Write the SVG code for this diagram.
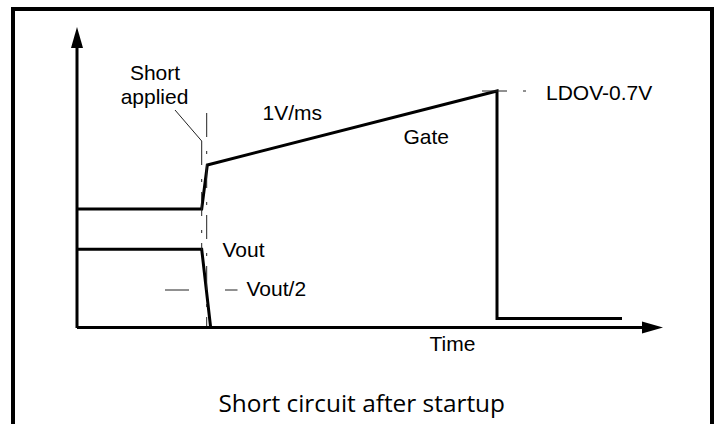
<svg xmlns="http://www.w3.org/2000/svg" width="717" height="424" viewBox="0 0 717 424">
<style>
.t{font-family:"Liberation Sans",Arial,sans-serif;font-size:21px;fill:#000}
.w{fill:none;stroke:#000;stroke-width:3;stroke-linejoin:miter}
.thin{fill:none;stroke:#222;stroke-width:1}
.dd{fill:none;stroke:#222;stroke-width:1;stroke-dasharray:24 14 3 10}
</style>
<rect x="0" y="0" width="717" height="424" fill="#fff"/>
<rect id="frame" x="13" y="9" width="699" height="430" fill="none" stroke="#000" stroke-width="4"/>
<g id="connectors">
  <line class="w" x1="77" y1="48" x2="77" y2="328"/>
  <polygon points="77,27 71,48 83,48" fill="#000"/>
  <line class="w" x1="77" y1="327.5" x2="643" y2="327.5"/>
  <polygon points="663,327.5 642,321.5 642,333.5" fill="#000"/>
</g>
<g id="gate">
  <polyline class="w" points="77,209 201.7,209 207.3,165 497,91 497,318.5 622,318.5"/>
  <text class="t" x="403.5" y="144">Gate</text>
  <text class="t" x="262.5" y="119.5">1V/ms</text>
</g>
<g id="vout">
  <polyline class="w" points="77,249.3 201.7,249.3 210.7,328"/>
  <text class="t" x="222.5" y="256.5">Vout</text>
</g>
<g id="markers">
  <line class="dd" x1="206.7" y1="113" x2="206.7" y2="326"/>
  <line class="dd" x1="201.7" y1="141" x2="201.7" y2="250" stroke-dasharray="25 8 3 8"/>
  <line class="thin" x1="175" y1="110" x2="201.7" y2="141"/>
  <line class="thin" x1="165" y1="290" x2="189" y2="290"/>
  <line class="thin" x1="225" y1="290" x2="237.5" y2="290"/>
  <line class="thin" x1="482" y1="91" x2="507" y2="91"/>
  <line class="thin" x1="523" y1="91" x2="526" y2="91"/>
</g>
<g id="labels">
  <text class="t" x="155" y="80" text-anchor="middle">Short</text>
  <text class="t" x="154.5" y="104" text-anchor="middle">applied</text>
  <text class="t" x="546" y="99.5">LDOV-0.7V</text>
  <text class="t" x="246.5" y="296">Vout/2</text>
  <text class="t" x="429.5" y="351">Time</text>
  <text x="218.5" y="412.3" font-family="'Open Sans','DejaVu Sans',sans-serif" font-size="23.5" textLength="286.5" lengthAdjust="spacingAndGlyphs" fill="#000">Short circuit after startup</text>
</g>
</svg>
